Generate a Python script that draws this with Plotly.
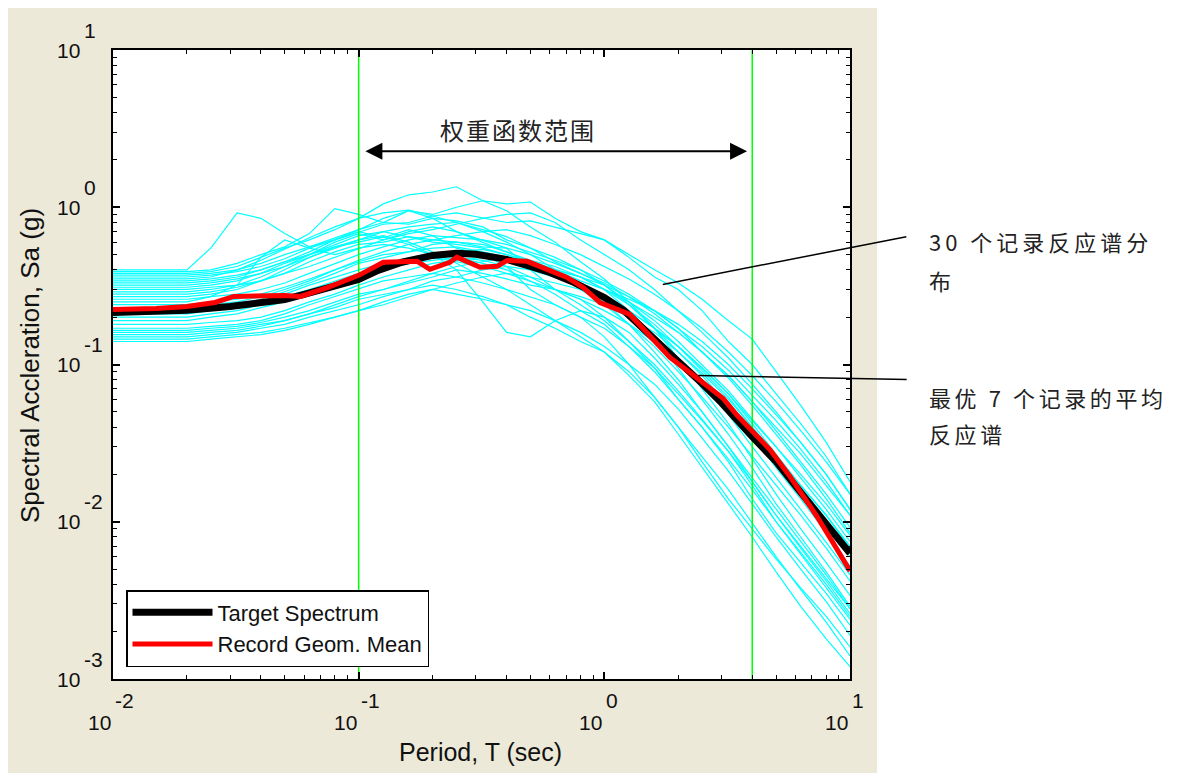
import math
import plotly.graph_objects as go

# ---------------- data ----------------
periods_rec = [0.01, 0.02, 0.025, 0.032, 0.04, 0.05, 0.063, 0.08, 0.1, 0.126, 0.16, 0.2, 0.25, 0.32,
               0.4, 0.5, 0.63, 0.8, 1.0, 1.26, 1.6, 2.0, 2.5, 3.2, 4.0, 5.0, 6.3, 8.0, 10.0]

rec01 = [0.40, 0.40, 0.55, 0.92, 0.85, 0.68, 0.56, 0.62, 0.70, 0.64, 0.72, 0.66, 0.55, 0.50, 0.42, 0.30, 0.24, 0.20, 0.15, 0.10, 0.062, 0.040, 0.024, 0.014, 0.009, 0.0058, 0.0038, 0.0025, 0.0016]
rec02 = [0.39, 0.39, 0.40, 0.44, 0.50, 0.56, 0.68, 0.98, 0.90, 0.80, 0.95, 0.85, 0.70, 0.62, 0.55, 0.40, 0.30, 0.26, 0.20, 0.14, 0.095, 0.060, 0.040, 0.024, 0.014, 0.0085, 0.0055, 0.0035, 0.0022]
rec03 = [0.38, 0.38, 0.39, 0.42, 0.48, 0.55, 0.62, 0.72, 0.85, 1.05, 1.20, 1.25, 1.35, 1.10, 0.95, 0.75, 0.60, 0.45, 0.35, 0.25, 0.17, 0.11, 0.070, 0.042, 0.025, 0.015, 0.009, 0.0055, 0.0034]
rec04 = [0.37, 0.37, 0.38, 0.40, 0.44, 0.50, 0.56, 0.64, 0.72, 0.85, 0.95, 0.90, 1.00, 1.10, 1.05, 1.08, 0.85, 0.70, 0.62, 0.48, 0.36, 0.30, 0.22, 0.14, 0.10, 0.065, 0.042, 0.026, 0.015]
rec05 = [0.36, 0.36, 0.37, 0.39, 0.42, 0.47, 0.55, 0.62, 0.70, 0.78, 0.80, 0.88, 0.92, 0.85, 0.80, 0.82, 0.75, 0.68, 0.62, 0.50, 0.40, 0.33, 0.26, 0.19, 0.145, 0.09, 0.055, 0.032, 0.018]
rec06 = [0.35, 0.35, 0.36, 0.40, 0.46, 0.54, 0.64, 0.75, 0.85, 0.92, 0.96, 0.88, 0.80, 0.70, 0.60, 0.50, 0.40, 0.32, 0.25, 0.18, 0.12, 0.080, 0.050, 0.030, 0.018, 0.011, 0.0068, 0.0042, 0.0026]
rec07 = [0.34, 0.34, 0.35, 0.37, 0.40, 0.45, 0.52, 0.62, 0.72, 0.80, 0.78, 0.85, 0.82, 0.75, 0.62, 0.55, 0.48, 0.40, 0.32, 0.24, 0.17, 0.12, 0.085, 0.055, 0.036, 0.022, 0.014, 0.0085, 0.0052]
rec08 = [0.33, 0.33, 0.34, 0.36, 0.40, 0.45, 0.50, 0.56, 0.60, 0.65, 0.58, 0.50, 0.40, 0.25, 0.16, 0.15, 0.19, 0.22, 0.20, 0.16, 0.11, 0.075, 0.050, 0.030, 0.019, 0.012, 0.0075, 0.0046, 0.0028]
rec09 = [0.32, 0.32, 0.33, 0.35, 0.38, 0.42, 0.48, 0.55, 0.62, 0.70, 0.75, 0.78, 0.80, 0.72, 0.65, 0.55, 0.45, 0.38, 0.32, 0.25, 0.19, 0.14, 0.10, 0.068, 0.045, 0.030, 0.019, 0.012, 0.0075]
rec10 = [0.31, 0.31, 0.32, 0.34, 0.38, 0.44, 0.50, 0.58, 0.66, 0.70, 0.65, 0.60, 0.58, 0.55, 0.50, 0.45, 0.40, 0.36, 0.30, 0.22, 0.15, 0.095, 0.060, 0.036, 0.022, 0.013, 0.008, 0.0048, 0.0029]
rec11 = [0.30, 0.30, 0.31, 0.32, 0.34, 0.38, 0.42, 0.48, 0.55, 0.62, 0.68, 0.72, 0.78, 0.85, 0.90, 0.92, 0.80, 0.62, 0.50, 0.40, 0.30, 0.22, 0.16, 0.11, 0.075, 0.050, 0.032, 0.020, 0.012]
rec12 = [0.29, 0.29, 0.30, 0.32, 0.36, 0.42, 0.50, 0.60, 0.68, 0.62, 0.70, 0.75, 0.70, 0.60, 0.52, 0.45, 0.38, 0.30, 0.24, 0.18, 0.13, 0.090, 0.062, 0.040, 0.026, 0.017, 0.011, 0.0068, 0.0042]
rec13 = [0.28, 0.28, 0.29, 0.31, 0.34, 0.38, 0.45, 0.52, 0.58, 0.60, 0.65, 0.62, 0.60, 0.56, 0.55, 0.50, 0.44, 0.38, 0.33, 0.27, 0.21, 0.16, 0.12, 0.082, 0.055, 0.036, 0.023, 0.014, 0.0085]
rec14 = [0.27, 0.27, 0.28, 0.30, 0.34, 0.40, 0.48, 0.56, 0.62, 0.66, 0.60, 0.52, 0.44, 0.36, 0.30, 0.24, 0.19, 0.15, 0.12, 0.085, 0.058, 0.036, 0.022, 0.013, 0.0080, 0.0048, 0.0029, 0.0018, 0.0012]
rec15 = [0.26, 0.26, 0.27, 0.28, 0.30, 0.33, 0.38, 0.44, 0.50, 0.56, 0.62, 0.66, 0.64, 0.62, 0.58, 0.52, 0.46, 0.40, 0.34, 0.28, 0.22, 0.17, 0.12, 0.085, 0.058, 0.038, 0.024, 0.015, 0.0092]
rec16 = [0.25, 0.25, 0.27, 0.32, 0.48, 0.62, 0.55, 0.50, 0.55, 0.58, 0.55, 0.50, 0.48, 0.44, 0.40, 0.34, 0.28, 0.22, 0.18, 0.13, 0.090, 0.060, 0.040, 0.025, 0.016, 0.010, 0.0064, 0.0040, 0.0025]
rec17 = [0.24, 0.24, 0.25, 0.26, 0.28, 0.31, 0.35, 0.40, 0.46, 0.52, 0.58, 0.62, 0.66, 0.70, 0.72, 0.66, 0.58, 0.50, 0.42, 0.35, 0.28, 0.22, 0.17, 0.12, 0.085, 0.058, 0.038, 0.024, 0.015]
rec18 = [0.23, 0.23, 0.24, 0.25, 0.27, 0.30, 0.34, 0.40, 0.45, 0.50, 0.52, 0.55, 0.56, 0.52, 0.48, 0.44, 0.40, 0.36, 0.30, 0.24, 0.18, 0.13, 0.092, 0.062, 0.040, 0.026, 0.017, 0.011, 0.0068]
rec19 = [0.22, 0.22, 0.23, 0.24, 0.26, 0.29, 0.33, 0.38, 0.44, 0.48, 0.52, 0.58, 0.60, 0.58, 0.52, 0.46, 0.40, 0.34, 0.30, 0.26, 0.22, 0.18, 0.14, 0.10, 0.070, 0.048, 0.032, 0.020, 0.012]
rec20 = [0.21, 0.21, 0.22, 0.23, 0.25, 0.28, 0.32, 0.36, 0.40, 0.44, 0.46, 0.50, 0.52, 0.54, 0.50, 0.45, 0.38, 0.32, 0.26, 0.20, 0.15, 0.11, 0.075, 0.048, 0.030, 0.019, 0.012, 0.0074, 0.0046]
rec21 = [0.20, 0.20, 0.21, 0.22, 0.24, 0.27, 0.30, 0.34, 0.38, 0.42, 0.46, 0.48, 0.45, 0.42, 0.38, 0.36, 0.33, 0.30, 0.26, 0.22, 0.17, 0.13, 0.095, 0.065, 0.044, 0.030, 0.020, 0.013, 0.0082]
rec22 = [0.19, 0.19, 0.20, 0.21, 0.23, 0.25, 0.28, 0.32, 0.36, 0.40, 0.44, 0.46, 0.48, 0.46, 0.42, 0.36, 0.30, 0.24, 0.19, 0.14, 0.10, 0.068, 0.045, 0.028, 0.017, 0.010, 0.0062, 0.0038, 0.0024]
rec23 = [0.18, 0.18, 0.185, 0.19, 0.20, 0.22, 0.25, 0.28, 0.32, 0.36, 0.40, 0.44, 0.46, 0.48, 0.46, 0.44, 0.40, 0.36, 0.32, 0.27, 0.22, 0.17, 0.13, 0.092, 0.064, 0.044, 0.029, 0.018, 0.011]
rec24 = [0.17, 0.17, 0.175, 0.18, 0.19, 0.21, 0.24, 0.27, 0.30, 0.34, 0.36, 0.38, 0.36, 0.33, 0.30, 0.27, 0.24, 0.20, 0.17, 0.13, 0.095, 0.065, 0.044, 0.028, 0.018, 0.011, 0.0070, 0.0044, 0.0028]
rec25 = [0.165, 0.165, 0.17, 0.175, 0.185, 0.20, 0.22, 0.25, 0.28, 0.30, 0.34, 0.38, 0.42, 0.45, 0.48, 0.46, 0.42, 0.36, 0.30, 0.25, 0.20, 0.16, 0.12, 0.085, 0.058, 0.040, 0.027, 0.017, 0.011]
rec26 = [0.16, 0.16, 0.165, 0.17, 0.18, 0.19, 0.21, 0.23, 0.26, 0.28, 0.30, 0.32, 0.30, 0.27, 0.24, 0.20, 0.17, 0.14, 0.12, 0.090, 0.062, 0.040, 0.026, 0.016, 0.0098, 0.0060, 0.0037, 0.0023, 0.0014]
rec27 = [0.155, 0.155, 0.16, 0.165, 0.175, 0.19, 0.21, 0.24, 0.27, 0.30, 0.33, 0.36, 0.40, 0.38, 0.35, 0.32, 0.30, 0.27, 0.24, 0.20, 0.16, 0.12, 0.088, 0.060, 0.040, 0.026, 0.017, 0.011, 0.0068]
rec28 = [0.15, 0.15, 0.155, 0.16, 0.17, 0.18, 0.20, 0.22, 0.24, 0.27, 0.30, 0.34, 0.36, 0.40, 0.42, 0.40, 0.36, 0.32, 0.27, 0.22, 0.17, 0.13, 0.095, 0.065, 0.042, 0.027, 0.017, 0.011, 0.0070]
rec29 = [0.145, 0.145, 0.15, 0.155, 0.16, 0.17, 0.185, 0.20, 0.22, 0.25, 0.28, 0.30, 0.28, 0.26, 0.24, 0.22, 0.19, 0.16, 0.13, 0.10, 0.075, 0.052, 0.034, 0.021, 0.013, 0.0080, 0.0050, 0.0031, 0.0019]
rec30 = [0.14, 0.14, 0.145, 0.15, 0.155, 0.165, 0.18, 0.20, 0.22, 0.24, 0.27, 0.30, 0.33, 0.36, 0.38, 0.34, 0.30, 0.26, 0.22, 0.18, 0.14, 0.11, 0.080, 0.055, 0.036, 0.023, 0.015, 0.0095, 0.0060]

records = [rec01, rec02, rec03, rec04, rec05, rec06, rec07, rec08, rec09, rec10,
           rec11, rec12, rec13, rec14, rec15, rec16, rec17, rec18, rec19, rec20,
           rec21, rec22, rec23, rec24, rec25, rec26, rec27, rec28, rec29, rec30]

periods_target = [0.01, 0.015, 0.02, 0.03, 0.04, 0.05, 0.06, 0.075, 0.1, 0.12, 0.15, 0.2, 0.25, 0.3,
                  0.4, 0.5, 0.6, 0.75, 1.0, 1.2, 1.5, 2.0, 2.5, 3.0, 4.0, 5.0, 6.0, 7.5, 10.0]
sa_target = [0.214, 0.218, 0.221, 0.234, 0.248, 0.259, 0.279, 0.305, 0.348, 0.397, 0.447, 0.494, 0.509, 0.502,
             0.466, 0.421, 0.385, 0.333, 0.267, 0.221, 0.157, 0.1045, 0.0757, 0.0570, 0.0348, 0.0241, 0.0169, 0.0111, 0.0063]

periods_mean = [0.01, 0.015, 0.02, 0.026, 0.031, 0.04, 0.05, 0.058, 0.075, 0.1, 0.126, 0.173, 0.195, 0.235,
                0.251, 0.312, 0.366, 0.402, 0.485, 0.585, 0.705, 0.819, 0.96, 1.27, 1.53, 1.85, 2.23, 2.69,
                3.04, 3.47, 3.99, 4.72, 5.70, 7.34, 8.53, 10.0]
sa_mean = [0.224, 0.227, 0.234, 0.248, 0.271, 0.275, 0.275, 0.271, 0.309, 0.369, 0.447, 0.453, 0.403, 0.447,
           0.481, 0.415, 0.421, 0.459, 0.453, 0.403, 0.358, 0.309, 0.248, 0.208, 0.151, 0.111, 0.0889, 0.0714,
           0.0610, 0.0475, 0.038, 0.0288, 0.0194, 0.0108, 0.00735, 0.00487]

weight_range = [0.1, 4.0]          # green limits of weighting function (s)
x_tick_exp = [-2, -1, 0, 1]
y_tick_exp = [-3, -2, -1, 0, 1]

# ---------------- figure ----------------
FONT = "Liberation Sans"
CJK = "Noto Sans CJK SC"
fig = go.Figure()

for rec in records:
    fig.add_trace(go.Scatter(x=periods_rec, y=rec, mode="lines",
                             line=dict(color="#00ffff", width=1.2), showlegend=False, hoverinfo="skip"))

for t in weight_range:
    fig.add_trace(go.Scatter(x=[t, t], y=[1e-3, 1e1], mode="lines",
                             line=dict(color="#00ff00", width=1.5), showlegend=False, hoverinfo="skip"))

fig.add_trace(go.Scatter(x=periods_target, y=sa_target, mode="lines", name="Target Spectrum",
                         line=dict(color="black", width=7)))
fig.add_trace(go.Scatter(x=periods_mean, y=sa_mean, mode="lines", name="Record Geom. Mean",
                         line=dict(color="#ff0000", width=5)))

# plot area in reference pixels: x 113..850, y 50..679 ; the page body adds an 8px offset
OFF = 8
L, R, T, B = 113, 850, 50, 679
W, H = R - L, B - T
FW, FH = 1177, 773
def px(x):
    return (x - L) / W
def py(y):
    return (B - y) / H

shapes = [
    dict(type="rect", xref="paper", yref="paper", x0=px(6), x1=px(877), y0=py(790), y1=py(4),
         fillcolor="#ece9d8", line=dict(width=0), layer="below"),
    dict(type="rect", xref="paper", yref="paper", x0=0, x1=1, y0=0, y1=1,
         fillcolor="white", line=dict(width=0), layer="below"),
]

ann = []
tick_font = dict(family=FONT, size=21, color="#111")
for e in x_tick_exp:
    ann.append(dict(x=e, xref="x", y=py(722), yref="paper", text="10", showarrow=False,
                    xanchor="right", yanchor="middle", font=tick_font))
    ann.append(dict(x=e, xref="x", y=py(700), yref="paper", text=str(e), showarrow=False,
                    xanchor="left", yanchor="middle", font=tick_font))
for e in y_tick_exp:
    ann.append(dict(x=px(82), xref="paper", y=e, yref="y", text="10", showarrow=False,
                    xanchor="right", yanchor="middle", font=tick_font))
    ann.append(dict(x=px(82), xref="paper", y=e, yref="y", yshift=20, text=str(e), showarrow=False,
                    xanchor="left", yanchor="middle", font=tick_font))

title_font = dict(family=FONT, size=25, color="#111")
ann.append(dict(x=px(480), xref="paper", y=py(752), yref="paper", text="Period, T (sec)",
                showarrow=False, xanchor="center", yanchor="middle", font=title_font))
ann.append(dict(x=px(30), xref="paper", y=py(366), yref="paper", text="Spectral Accleration, Sa (g)",
                showarrow=False, xanchor="center", yanchor="middle", textangle=-90,
                font=dict(family=FONT, size=26, color="#111")))

# double arrow for weighting range
ya = math.log10(2.27)
ann.append(dict(x=math.log10(3.81), y=ya, xref="x", yref="y", ax=math.log10(0.105), ay=ya,
                axref="x", ayref="y", text="", showarrow=True, arrowside="end+start",
                arrowhead=2, startarrowhead=2, arrowsize=1.7, startarrowsize=1.7,
                arrowwidth=2, arrowcolor="black", standoff=0, startstandoff=0))
ann.append(dict(x=px(518), xref="paper", y=py(129), yref="paper",
                text="<span style='letter-spacing:2px'>权重函数范围</span>",
                showarrow=False, xanchor="center", yanchor="middle",
                font=dict(family=CJK, size=24, color="#222")))

# leader lines
ann.append(dict(x=math.log10(1.73), y=math.log10(0.323), xref="x", yref="y", ax=245, ay=-48,
                text="", showarrow=True, arrowhead=0, arrowwidth=1.5, arrowcolor="black", standoff=0))
ann.append(dict(x=math.log10(2.41), y=math.log10(0.0851), xref="x", yref="y", ax=210, ay=4,
                text="", showarrow=True, arrowhead=0, arrowwidth=1.5, arrowcolor="black", standoff=0))

cjk_font = dict(family=CJK, size=22, color="#222")
side = [("30 个记录反应谱分", 241, 4), ("布", 280, 4), ("最优 7 个记录的平均", 397, 3.6), ("反应谱", 433, 3.6)]
for txt, yy, sp in side:
    ann.append(dict(x=px(927), xref="paper", y=py(yy), yref="paper",
                    text="<span style='letter-spacing:%spx'>%s</span>" % (sp, txt),
                    showarrow=False, xanchor="left", yanchor="middle", font=cjk_font))

minor_x = [k * 10.0 ** e for e in (-2, -1, 0) for k in range(2, 10)]
minor_y = [k * 10.0 ** e for e in (-3, -2, -1, 0) for k in range(2, 10)]

def axis(rng, major, minor):
    return dict(type="log", range=rng, showgrid=False, zeroline=False, showline=True, linecolor="black",
                linewidth=2, mirror="allticks", ticks="inside", ticklen=7, tickwidth=1.5,
                tickcolor="black", tickmode="array", tickvals=major, showticklabels=False,
                minor=dict(ticks="inside", ticklen=4, tickwidth=1, tickcolor="black",
                           tickmode="array", tickvals=minor, showgrid=False))

fig.update_layout(
    width=FW, height=FH,
    margin=dict(l=L - OFF, r=FW - (R - OFF), t=T - OFF, b=FH - (B - OFF), autoexpand=False),
    paper_bgcolor="white", plot_bgcolor="white",
    xaxis=axis([-2, 1], [10.0 ** e for e in x_tick_exp], minor_x),
    yaxis=axis([-3, 1], [10.0 ** e for e in y_tick_exp], minor_y),
    shapes=shapes, annotations=ann,
    legend=dict(x=px(126), y=py(590), xanchor="left", yanchor="top", bgcolor="white",
                bordercolor="black", borderwidth=1.5, itemwidth=80, tracegroupgap=0,
                font=dict(family=FONT, size=22, color="#111")),
    showlegend=True,
)

fig.write_html("out.html")
